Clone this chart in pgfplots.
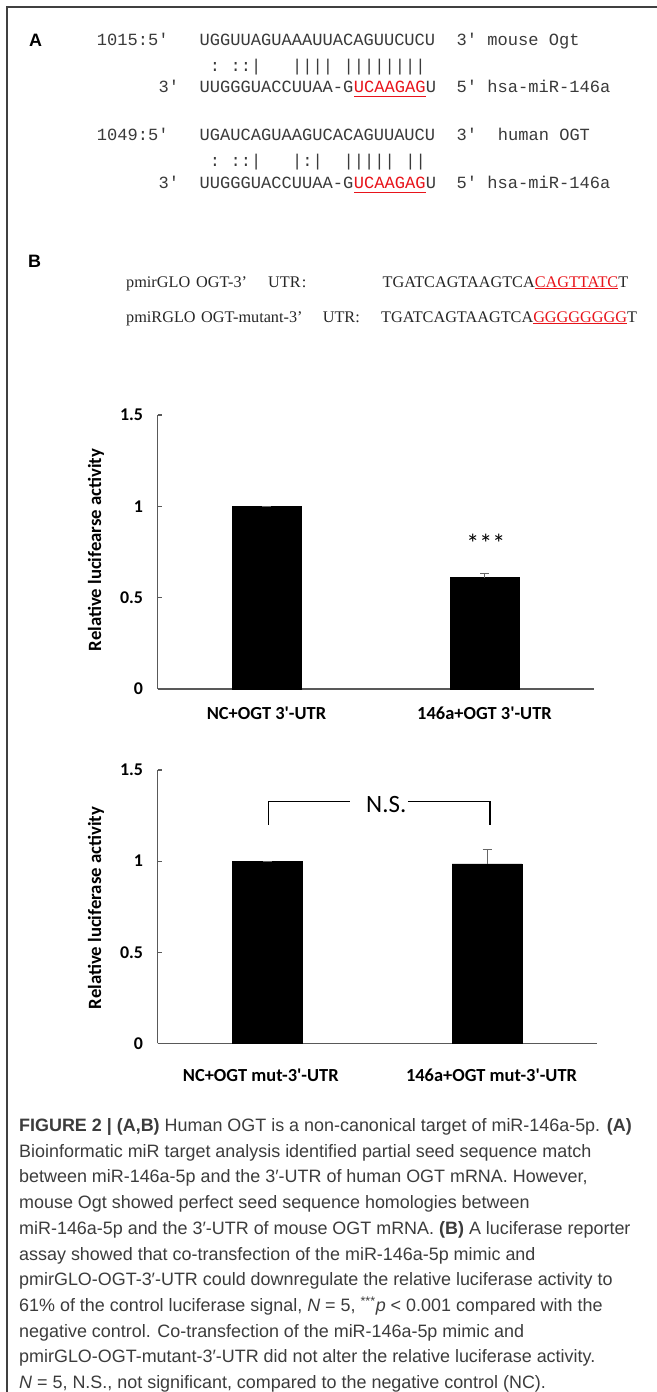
\documentclass[border=0pt]{standalone}
\usepackage{fontspec}
\usepackage{pgfplots}
\pgfplotsset{compat=1.18}
\setmainfont{Carlito}
\newfontfamily\monof{Liberation Mono}
\newfontfamily\serf{Liberation Serif}
\newfontfamily\capf{Liberation Sans}
\definecolor{seqred}{HTML}{E8141B}
\definecolor{txtgray}{HTML}{3A3A3A}
\definecolor{capgray}{HTML}{3C3C3C}
\newcommand{\q}{\textquotesingle}
\begin{document}
\begin{tikzpicture}
\path[use as bounding box, fill=white] (0,0) rectangle (657bp,-1392bp);
\draw[black!75, line width=1.3bp] (7bp,-1392bp) -- (7bp,-7bp) -- (657bp,-7bp);

% ---------- Panel A ----------
\node[anchor=base west, inner sep=0, font=\capf\bfseries\fontsize{18}{18}\selectfont] at (29bp,-46bp) {A};
\begin{scope}[every node/.style={anchor=base west, inner sep=0, font=\monof\fontsize{17.13}{17.13}\selectfont, text=txtgray}]
% mouse
\node at (96.70bp,-45.1bp) {1015:5\q};
\node at (199.50bp,-45.1bp) {UGGUUAGUAAAUUACAGUUCUCU};
\node at (456.50bp,-45.1bp) {3\q{} mouse Ogt};
\node at (209.78bp,-71.1bp) {:};
\node at (230.34bp,-71.1bp) {::|};
\node at (292.02bp,-71.1bp) {||||};
\node at (343.42bp,-71.1bp) {||||||||};
\node at (158.38bp,-92.8bp) {3\q};
\node at (199.50bp,-92.8bp) {UUGGGUACCUUAA-G};
\node[text=seqred] at (353.70bp,-92.8bp) {UCAAGAG};
\node at (425.66bp,-92.8bp) {U};
\node at (456.50bp,-92.8bp) {5\q{} hsa-miR-146a};
% human
\node at (96.70bp,-140.1bp) {1049:5\q};
\node at (199.50bp,-140.1bp) {UGAUCAGUAAGUCACAGUUAUCU};
\node at (456.50bp,-140.1bp) {3\q};
\node at (497.62bp,-140.1bp) {human OGT};
\node at (209.78bp,-166.8bp) {:};
\node at (230.34bp,-166.8bp) {::|};
\node at (292.02bp,-166.8bp) {|:|};
\node at (343.42bp,-166.8bp) {|||||};
\node at (405.10bp,-166.8bp) {||};
\node at (158.38bp,-188.5bp) {3\q};
\node at (199.50bp,-188.5bp) {UUGGGUACCUUAA-G};
\node[text=seqred] at (353.70bp,-188.5bp) {UCAAGAG};
\node at (425.66bp,-188.5bp) {U};
\node at (456.50bp,-188.5bp) {5\q{} hsa-miR-146a};
\end{scope}
\draw[seqred, line width=1.1bp] (354bp,-96.6bp) -- (425.5bp,-96.6bp);
\draw[seqred, line width=1.1bp] (354bp,-192.3bp) -- (425.5bp,-192.3bp);

% ---------- Panel B sequences ----------
\node[anchor=base west, inner sep=0, font=\capf\bfseries\fontsize{18}{18}\selectfont] at (28bp,-267.3bp) {B};
\begin{scope}[every node/.style={anchor=base west, inner sep=0, font=\serf\fontsize{16.3}{16.3}\selectfont, text=black!85}]
\node at (126bp,-287bp) {pmirGLO};
\node at (196bp,-287bp) {OGT-3’};
\node at (268bp,-287bp) {UTR};
\node at (301.6bp,-287bp) {:};
\node at (382.5bp,-287bp) {TGATCAGTAAGTCA\textcolor{seqred}{\underline{CAGTTATC}}T};
\node at (126bp,-322bp) {pmiRGLO};
\node at (201bp,-322bp) {OGT-mutant-3’};
\node at (322.6bp,-322bp) {UTR:};
\node at (381bp,-322bp) {TGATCAGTAAGTCA\textcolor{seqred}{\underline{GGGGGGGG}}T};
\end{scope}

% ---------- Chart 1 ----------
\begin{axis}[at={(157.5bp,-689bp)}, anchor=south west, scale only axis,
  width=436bp, height=274bp,
  xmin=-0.5, xmax=1.5, ymin=0, ymax=1.5, ytick={0,0.5,1,1.5}, xtick=\empty,
  axis x line=bottom, axis y line=left,
  axis line style={-, black!65, line width=1.2bp},
  tick align=inside, major tick length=4.5bp,
  ytick style={black!65, line width=1.2bp},
  yticklabel style={font=\bfseries\fontsize{18}{18}\selectfont, xshift=-11bp},
  /pgf/number format/assume math mode=true, clip=false]
\addplot[ybar, bar width=68.6bp, fill=black, draw=black,
  error bars/.cd, y dir=plus, y explicit,
  error bar style={black!60, line width=1bp},
  error mark options={rotate=90, mark size=4.5bp, black!60, line width=1bp}]
  coordinates {(0,1) +- (0,0) (1,0.61) +- (0,0.025)};
\node[font=\fontsize{26}{26}\selectfont] at (axis cs:1.006,0.80) {***};
\node[font=\bfseries\fontsize{18.5}{18.5}\selectfont] at (axis cs:0,0) [yshift=-24.3bp] {NC+OGT 3\q-UTR};
\node[font=\bfseries\fontsize{18.5}{18.5}\selectfont] at (axis cs:1,0) [yshift=-24.3bp] {146a+OGT 3\q-UTR};
\end{axis}
\node[rotate=90, font=\bfseries\fontsize{18.8}{18.8}\selectfont] at (96bp,-550bp) {Relative lucifearse activity};

% ---------- Chart 2 ----------
\begin{axis}[at={(157.5bp,-1043.3bp)}, anchor=south west, scale only axis,
  width=439.5bp, height=273.3bp,
  xmin=-0.5, xmax=1.5, ymin=0, ymax=1.5, ytick={0,0.5,1,1.5}, xtick=\empty,
  axis x line=bottom, axis y line=left,
  axis line style={-, black!65, line width=1.2bp},
  tick align=inside, major tick length=4.5bp,
  ytick style={black!65, line width=1.2bp},
  yticklabel style={font=\bfseries\fontsize{18}{18}\selectfont, xshift=-11bp},
  /pgf/number format/assume math mode=true, clip=false]
\addplot[ybar, bar width=70bp, fill=black, draw=black,
  error bars/.cd, y dir=plus, y explicit,
  error bar style={black!60, line width=1bp},
  error mark options={rotate=90, mark size=4.5bp, black!60, line width=1bp}]
  coordinates {(0,1) +- (0,0) (1,0.985) +- (0,0.08)};
\draw[black, line width=1.6bp] (axis cs:0.005,1.20) -- (axis cs:0.005,1.327) -- (axis cs:0.374,1.327);
\draw[black, line width=1.6bp] (axis cs:0.639,1.327) -- (axis cs:1.013,1.327) -- (axis cs:1.013,1.20);
\node[font=\fontsize{25}{25}\selectfont, inner sep=0] at (axis cs:0.541,1.308) {N.S.};
\node[font=\bfseries\fontsize{18.5}{18.5}\selectfont] at (axis cs:-0.03,0) [yshift=-31.7bp] {NC+OGT mut-3\q-UTR};
\node[font=\bfseries\fontsize{18.5}{18.5}\selectfont] at (axis cs:1.02,0) [yshift=-31.7bp] {146a+OGT mut-3\q-UTR};
\end{axis}
\node[rotate=90, font=\bfseries\fontsize{18.8}{18.8}\selectfont] at (96bp,-908bp) {Relative luciferase activity};

% ---------- Caption ----------
\begin{scope}[every node/.style={anchor=base west, inner sep=0, font=\capf\fontsize{18}{18}\selectfont, text=capgray}]
\node at (19bp,-1131.5bp) {\textbf{FIGURE 2 | (A,B)} Human OGT is a non-canonical target of miR-146a-5p. \textbf{(A)}};
\node at (19bp,-1157.2bp) {Bioinformatic miR target analysis identified partial seed sequence match};
\node at (19bp,-1182.9bp) {between miR-146a-5p and the 3′-UTR of human OGT mRNA. However,};
\node at (19bp,-1208.6bp) {mouse Ogt showed perfect seed sequence homologies between};
\node at (19bp,-1234.3bp) {miR-146a-5p and the 3′-UTR of mouse OGT mRNA. \textbf{(B)} A luciferase reporter};
\node at (19bp,-1260bp) {assay showed that co-transfection of the miR-146a-5p mimic and};
\node at (19bp,-1285.7bp) {pmirGLO-OGT-3′-UTR could downregulate the relative luciferase activity to};
\node at (19bp,-1311.4bp) {61\% of the control luciferase signal, \textit{N} = 5, \textsuperscript{***}\textit{p} < 0.001 compared with the};
\node at (19bp,-1337.1bp) {negative control. Co-transfection of the miR-146a-5p mimic and};
\node at (19bp,-1362.8bp) {pmirGLO-OGT-mutant-3′-UTR did not alter the relative luciferase activity.};
\node at (19bp,-1388.5bp) {\textit{N} = 5, N.S., not significant, compared to the negative control (NC).};
\end{scope}
\end{tikzpicture}
\end{document}
